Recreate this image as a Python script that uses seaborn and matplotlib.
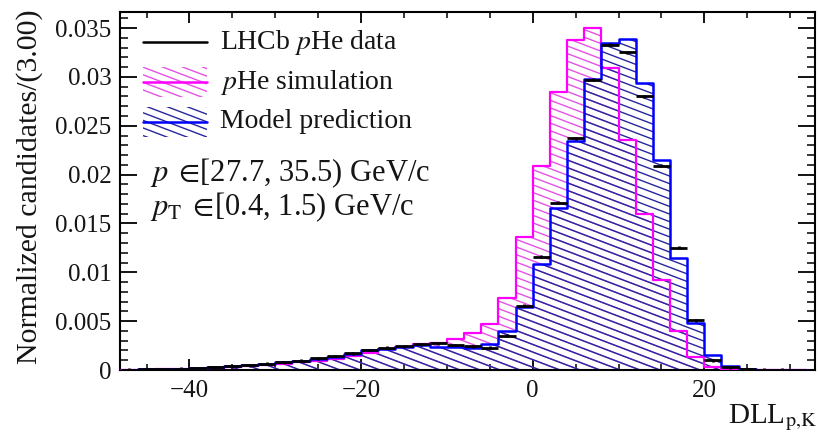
import numpy as np
import pandas as pd
import matplotlib
matplotlib.use("Agg")
import matplotlib.pyplot as plt
import seaborn as sns
from matplotlib.collections import LineCollection
from matplotlib.path import Path
from matplotlib.ticker import MultipleLocator, FuncFormatter

# ---- binned DLL(p,K) distributions (normalised per bin) ----
BIN_WIDTH = 2.0
bin_centers = np.arange(-47, 32, 2)

data_vals = [
    0.00005, 0.00008, 0.00010, 0.00015, 0.00020, 0.00028, 0.00038, 0.00050,
    0.00065, 0.00080, 0.00095, 0.00120, 0.00143, 0.00170, 0.00205, 0.00228,
    0.00245, 0.00263, 0.00273, 0.00256, 0.00245, 0.00230, 0.00350, 0.00660,
    0.01160, 0.01710, 0.02370, 0.02970, 0.03330, 0.03250, 0.02800, 0.02090,
    0.01250, 0.00510, 0.00100, 0.00030, 0.00010, 0.00005, 0.00002, 0.00000,
]
model_vals = [
    0.00005, 0.00008, 0.00010, 0.00015, 0.00020, 0.00027, 0.00036, 0.00048,
    0.00062, 0.00077, 0.00092, 0.00115, 0.00138, 0.00165, 0.00200, 0.00220,
    0.00238, 0.00252, 0.00240, 0.00240, 0.00228, 0.00265, 0.00395, 0.00640,
    0.01080, 0.01660, 0.02340, 0.02980, 0.03350, 0.03385, 0.02935, 0.02150,
    0.01150, 0.00480, 0.00150, 0.00040, 0.00015, 0.00005, 0.00002, 0.00000,
]
sim_vals = [
    0.00003, 0.00005, 0.00007, 0.00010, 0.00015, 0.00020, 0.00028, 0.00038,
    0.00050, 0.00062, 0.00078, 0.00095, 0.00115, 0.00140, 0.00170, 0.00210,
    0.00240, 0.00265, 0.00273, 0.00314, 0.00382, 0.00470, 0.00740, 0.01360,
    0.02090, 0.02850, 0.03380, 0.03500, 0.03090, 0.02350, 0.01600, 0.00920,
    0.00403, 0.00137, 0.00030, 0.00010, 0.00003, 0.00000, 0.00000, 0.00000,
]
DATA_ERR = 0.00015

x_ticks = [-40, -20, 0, 20]
y_ticks = [0, 0.005, 0.01, 0.015, 0.02, 0.025, 0.03, 0.035]

MAGENTA = "#ff00ff"
MAGENTA_HATCH = "#e552e5"
BLUE = "#0000ff"
BLUE_HATCH = "#27279c"
TEXT = "#151515"

sns.set_theme(style="ticks")
plt.rcParams.update({
    "font.family": ["Liberation Serif", "DejaVu Serif"],
    "mathtext.fontset": "stix",
    "axes.linewidth": 1.5,
    "axes.unicode_minus": True,
})

W, H = 818, 436
AX_L, AX_T, AX_R, AX_B = 120, 12, 815, 370
AX_W, AX_H = AX_R - AX_L, AX_B - AX_T

fig = plt.figure(figsize=(W / 100, H / 100), dpi=100)
ax = fig.add_axes([AX_L / W, 1 - AX_B / H, AX_W / W, AX_H / H])

edges = np.append(bin_centers - BIN_WIDTH / 2, bin_centers[-1] + BIN_WIDTH / 2)
hist_df = pd.DataFrame({
    "dll": bin_centers,
    "sim": sim_vals,
    "model": model_vals,
})


def step_path(values):
    xs = np.repeat(edges, 2)
    ys = np.concatenate([[0.0], np.repeat(values, 2), [0.0]])
    return Path(np.column_stack([xs, ys]))


def add_hatch(clip_path, clip_transform, color, spacing=7.6, slope=0.38,
              lw=1.0, zorder=2):
    """Shallow diagonal hatching, laid out in axes space and clipped to a path."""
    drop = slope * AX_W / AX_H
    step = spacing / AX_H
    starts = np.arange(0.0, 1.0 + drop + step, step)
    segs = [[(0.0, c), (1.0, c - drop)] for c in starts]
    lc = LineCollection(segs, colors=color, linewidths=lw,
                        transform=ax.transAxes, zorder=zorder)
    ax.add_collection(lc, autolim=False)
    lc.set_clip_path(clip_path, clip_transform)
    return lc


# hatched areas: simulation below, model prediction on top
add_hatch(step_path(sim_vals), ax.transData, MAGENTA_HATCH, zorder=2)
add_hatch(step_path(model_vals), ax.transData, BLUE_HATCH, zorder=2.1)

# histogram outlines
sns.histplot(data=hist_df, x="dll", weights="sim", binwidth=BIN_WIDTH,
             binrange=(edges[0], edges[-1]), element="step", fill=False,
             color=MAGENTA, linewidth=1.6, ax=ax, zorder=3)
sns.histplot(data=hist_df, x="dll", weights="model", binwidth=BIN_WIDTH,
             binrange=(edges[0], edges[-1]), element="step", fill=False,
             color=BLUE, linewidth=1.8, ax=ax, zorder=3.1)

# data points with bin-width horizontal bars
ax.errorbar(bin_centers, data_vals, xerr=BIN_WIDTH / 2, yerr=DATA_ERR,
            fmt="none", ecolor="black", elinewidth=2.0, capsize=0, zorder=4)

ax.set_xlim(-48.1, 32.9)
ax.set_ylim(0, 0.03664)
ax.set_xlabel("")
ax.set_ylabel("")

ax.set_xticks(x_ticks)
ax.xaxis.set_minor_locator(MultipleLocator(5))
ax.set_yticks(y_ticks)
ax.yaxis.set_minor_locator(MultipleLocator(0.001))
ax.yaxis.set_major_formatter(FuncFormatter(lambda v, p: f"{v:g}"))
ax.tick_params(which="both", direction="in", top=True, right=True,
               labelsize=18, color="black", labelcolor=TEXT)
ax.tick_params(axis="x", which="major", length=8, width=1.3, pad=7)
ax.tick_params(axis="x", which="minor", length=4, width=1.1)
ax.tick_params(axis="y", which="major", length=12, width=1.3, pad=6)
ax.tick_params(axis="y", which="minor", length=6, width=1.1)
for s in ax.spines.values():
    s.set_color("black")

# legend drawn by hand so the samples carry the same hatching
rows = [0.916, 0.804, 0.693]
sx0, sx1 = 23 / AX_W, 87 / AX_W
box_h = 30 / AX_H
legend_items = [
    ("LHCb $p$He data", None, None),
    ("$p$He simulation", MAGENTA, MAGENTA_HATCH),
    ("Model prediction", BLUE, BLUE_HATCH),
]
for (label, lc, hc), yr in zip(legend_items, rows):
    if hc is not None:
        rect = Path([(sx0, yr - box_h / 2), (sx1, yr - box_h / 2),
                     (sx1, yr + box_h / 2), (sx0, yr + box_h / 2),
                     (sx0, yr - box_h / 2)])
        add_hatch(rect, ax.transAxes, hc, zorder=5)
        ax.plot([sx0, sx1], [yr, yr], color=lc, lw=1.8,
                transform=ax.transAxes, zorder=6)
    else:
        ax.plot([sx0, sx1], [yr, yr], color="black", lw=1.8,
                transform=ax.transAxes, zorder=6)
    ax.text(100 / AX_W, yr, label, transform=ax.transAxes, fontsize=20,
            va="center", ha="left", color=TEXT, zorder=6)

ax.text(30 / AX_W, 0.55, r"$p\;\in\!$[27.7, 35.5) GeV/c",
        transform=ax.transAxes, fontsize=22, va="center", ha="left",
        color=TEXT)
ax.text(30 / AX_W, 0.455, r"$p_{\mathrm{T}}\;\in\!$[0.4, 1.5) GeV/c",
        transform=ax.transAxes, fontsize=22, va="center", ha="left",
        color=TEXT)

fig.text(30 / W, 1 - 9 / H, "Normalized candidates/(3.00)", rotation=90,
         ha="center", va="top", fontsize=21.5, color=TEXT)
fig.text(817 / W, 1 - 423 / H, r"DLL$_{\mathrm{p{,}K}}$", ha="right",
         va="baseline", fontsize=21, color=TEXT)

fig.savefig("out.png", dpi=100)
